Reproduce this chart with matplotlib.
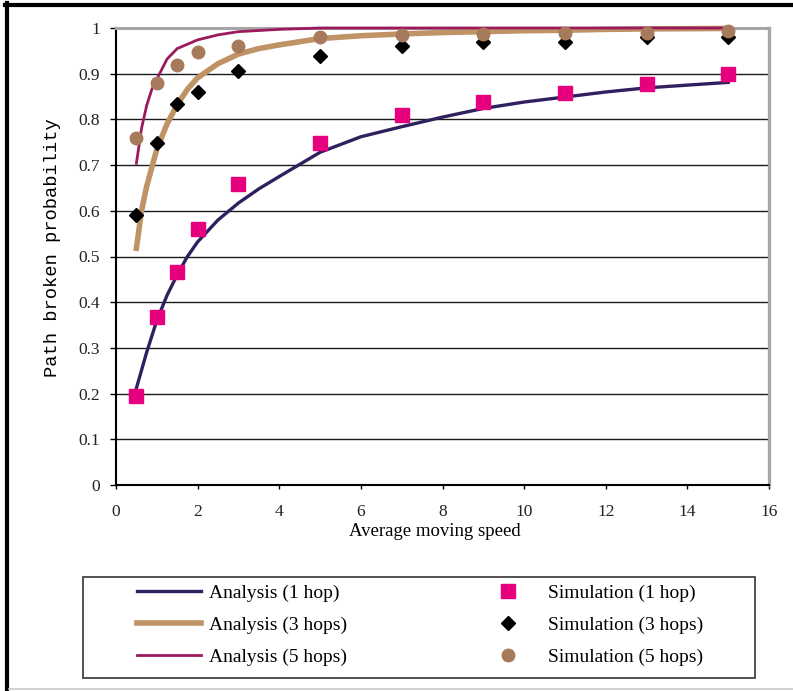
import matplotlib
matplotlib.use("Agg")
import matplotlib.pyplot as plt
from matplotlib.lines import Line2D
from matplotlib.patches import Rectangle

# simulation points
sim_x = [0.5, 1, 1.5, 2, 3, 5, 7, 9, 11, 13, 15]
sim_1hop = [0.195, 0.367, 0.466, 0.56, 0.658, 0.748, 0.81, 0.837, 0.858, 0.878, 0.9]
sim_3hops = [0.59, 0.748, 0.833, 0.86, 0.907, 0.938, 0.96, 0.97, 0.97, 0.98, 0.98]
sim_5hops = [0.76, 0.88, 0.918, 0.948, 0.96, 0.98, 0.985, 0.987, 0.988, 0.99, 0.993]

# analysis curves
a1_x = [0.5, 0.75, 1, 1.25, 1.5, 1.75, 2, 2.5, 3, 3.5, 4, 5, 6, 7, 8, 9, 10, 11, 12, 13, 14, 15]
a1_y = [0.212, 0.29, 0.36, 0.415, 0.46, 0.5, 0.532, 0.58, 0.617, 0.648, 0.675, 0.728, 0.762,
        0.784, 0.805, 0.824, 0.838, 0.849, 0.86, 0.869, 0.875, 0.881]

a3_x = [0.5, 0.625, 0.75, 1, 1.25, 1.5, 1.75, 2, 2.5, 3, 3.5, 4, 5, 6, 7, 8, 9, 10, 11, 12, 13, 15]
a3_y = [0.518, 0.6, 0.653, 0.735, 0.79, 0.832, 0.866, 0.891, 0.922, 0.943, 0.955, 0.963, 0.977,
        0.983, 0.987, 0.99, 0.992, 0.994, 0.995, 0.997, 0.998, 0.999]

a5_x = [0.5, 0.625, 0.75, 0.875, 1, 1.25, 1.5, 2, 2.5, 3, 4, 5, 7, 15]
a5_y = [0.704, 0.78, 0.83, 0.865, 0.888, 0.932, 0.955, 0.974, 0.985, 0.992, 0.997, 1.0, 1.0, 1.0]

x_ticks = [0, 2, 4, 6, 8, 10, 12, 14, 16]
y_ticks = [0, 0.1, 0.2, 0.3, 0.4, 0.5, 0.6, 0.7, 0.8, 0.9, 1]
y_tick_labels = ["0", "0.1", "0.2", "0.3", "0.4", "0.5", "0.6", "0.7", "0.8", "0.9", "1"]

NAVY = "#30205f"
TAN = "#c09366"
MAROON = "#9c1a5c"
PINK = "#e6007e"
BROWN = "#a87a5c"

SERIF = "Liberation Serif"
MONO = "Liberation Mono"

W, H = 793, 691
fig = plt.figure(figsize=(W / 100, H / 100), dpi=100)

# outer frame pieces
fig.add_artist(Line2D([7 / W, 7 / W], [0, 1 - 3 / H], color="black", lw=3, transform=fig.transFigure))
fig.add_artist(Line2D([5 / W, 1], [1 - 5 / H, 1 - 5 / H], color="black", lw=3, transform=fig.transFigure))
fig.add_artist(Line2D([9 / W, 1], [1 - 689 / H, 1 - 689 / H], color="#c8c8c8", lw=1.2, transform=fig.transFigure))

ax = fig.add_axes([116 / W, 1 - 485 / H, (769 - 116) / W, (485 - 28) / H])

ax.plot(a1_x, a1_y, color=NAVY, lw=2.4, zorder=3, clip_on=False, label="Analysis (1 hop)")
ax.plot(a3_x, a3_y, color=TAN, lw=4, zorder=3, clip_on=False, label="Analysis (3 hops)")
ax.plot(a5_x, a5_y, color=MAROON, lw=2, zorder=3, clip_on=False, label="Analysis (5 hops)")

ax.plot(sim_x, sim_1hop, ls="none", marker="s", ms=9.5, color=PINK, zorder=4, clip_on=False,
        label="Simulation (1 hop)")
ax.plot(sim_x, sim_3hops, ls="none", marker="D", ms=6.8, color="black", zorder=4, clip_on=False,
        label="Simulation (3 hops)")
ax.plot(sim_x, sim_5hops, ls="none", marker="o", ms=9, color=BROWN, zorder=5, clip_on=False,
        label="Simulation (5 hops)")

ax.set_xlim(0, 16)
ax.set_ylim(0, 1)
ax.set_xticks(x_ticks)
ax.set_xticklabels([str(t) for t in x_ticks], fontfamily=SERIF, fontsize=12.5, color="#222222")
ax.set_yticks(y_ticks)
ax.set_yticklabels(y_tick_labels, fontfamily=SERIF, fontsize=12.5, color="#222222")
ax.tick_params(axis="x", direction="out", length=3, width=1, pad=10.5)
ax.tick_params(axis="y", direction="out", length=4.5, width=1, pad=7)

ax.yaxis.grid(True, color="#1a1a1a", lw=1.0)
ax.set_axisbelow(True)

for s in ["left", "bottom"]:
    ax.spines[s].set_color("black")
    ax.spines[s].set_linewidth(1.5)
ax.spines["top"].set_color("#a6a6a6")
ax.spines["top"].set_linewidth(2.2)
ax.spines["right"].set_color("#a6a6a6")
ax.spines["right"].set_linewidth(2.4)

ax.set_xlabel("Average moving speed", fontfamily=SERIF, fontsize=13.5, va="center")
ax.xaxis.set_label_coords((435 - 116) / 653, (485 - 532) / 457)
ax.set_ylabel("Path broken probability", fontfamily=MONO, fontsize=13.5, va="center")
ax.yaxis.set_label_coords((53 - 116) / 653, (485 - 248) / 457)

# legend box below the plot
fig.add_artist(Rectangle((83 / W, 1 - 678 / H), (755 - 83) / W, (678 - 577) / H,
                         transform=fig.transFigure, fill=False, edgecolor="#333333", lw=1.2))

h, l = ax.get_legend_handles_labels()
fig.legend(h, l, ncol=2, loc="center", bbox_to_anchor=(420 / W, 1 - 625 / H),
           frameon=False, prop={"family": SERIF, "size": 14},
           handlelength=3.3, handletextpad=0.4, columnspacing=6.6, labelspacing=0.72,
           borderaxespad=0)

fig.savefig("out.png", dpi=100)
